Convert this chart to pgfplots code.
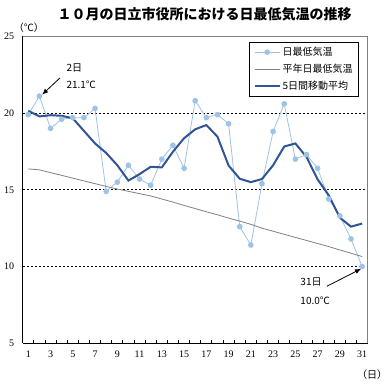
\documentclass[border=0pt]{standalone}
\usepackage{fontspec}
\setmainfont{Liberation Serif}
\newfontfamily\cjk{Noto Sans CJK JP}
\usepackage{pgfplots}
\pgfplotsset{compat=1.18}
\usetikzlibrary{arrows.meta}
\definecolor{daily}{RGB}{157,195,230}
\definecolor{ma}{RGB}{47,85,151}
\definecolor{norm}{RGB}{128,128,128}
\begin{document}
\begin{tikzpicture}
\begin{axis}[
  scale only axis, width=345pt, height=307pt,
  xmin=0.5, xmax=31.5, ymin=5, ymax=25,
  axis lines=left, axis line style={-, black, line width=0.9pt},
  xtick={1,3,...,31}, minor xtick={1.5,2.5,...,30.5},
  ytick={5,10,...,25},
  tick align=inside, tick pos=left,
  major tick length=0pt, minor tick length=3.5pt,
  minor tick style={black, line width=0.8pt},
  ticklabel style={font=\fontsize{10}{12}\selectfont},
  /pgf/number format/assume math mode=true,
  xticklabel style={yshift=-4pt},
  yticklabel style={xshift=-5pt},
  extra y ticks={10,15,20}, extra y tick labels={},
  extra y tick style={grid=major, major grid style={black, line width=0.7pt, dash pattern=on 2.5pt off 1.5pt}},
  clip=false,
  legend image code/.code={\draw[mark repeat=2,mark phase=2,#1] plot coordinates {(0pt,0pt) (12.5pt,0pt) (25pt,0pt)};},
  legend style={at={(rel axis cs:0.975,0.982)}, anchor=north east, draw=black, line width=0.8pt,
    font=\cjk\fontsize{10}{12}\selectfont, legend cell align=left,
    inner xsep=4pt, inner ysep=3pt, row sep=3pt},
]
\addplot[color=daily, line width=0.8pt, mark=*, mark size=2.4pt, mark options={fill=daily, draw=daily}] coordinates {
(1,19.9) (2,21.1) (3,19.0) (4,19.6) (5,19.7) (6,19.7) (7,20.3) (8,14.9) (9,15.5) (10,16.6)
(11,15.7) (12,15.3) (13,17.0) (14,17.9) (15,16.4) (16,20.8) (17,19.7) (18,19.9) (19,19.3) (20,12.6)
(21,11.4) (22,15.4) (23,18.8) (24,20.6) (25,17.0) (26,17.3) (27,16.4) (28,14.4) (29,13.3) (30,11.8) (31,10.0)};
\addlegendentry{日最低気温}
\addplot[color=norm, line width=0.8pt] coordinates {
(1,16.36) (2,16.3) (3,16.12) (4,15.94) (5,15.76) (6,15.58) (7,15.4) (8,15.22) (9,15.05) (10,14.9)
(11,14.75) (12,14.6) (13,14.4) (14,14.2) (15,13.98) (16,13.78) (17,13.57) (18,13.37) (19,13.16) (20,12.96)
(21,12.75) (22,12.5) (23,12.3) (24,12.1) (25,11.9) (26,11.7) (27,11.5) (28,11.3) (29,11.08) (30,10.87) (31,10.65)};
\addlegendentry{平年日最低気温}
\addplot[color=ma, line width=2pt] coordinates {
(1,20.15) (2,19.78) (3,19.86) (4,19.82) (5,19.66) (6,18.84) (7,18.02) (8,17.4) (9,16.6) (10,15.6)
(11,16.02) (12,16.5) (13,16.46) (14,17.48) (15,18.36) (16,18.94) (17,19.22) (18,18.46) (19,16.58) (20,15.72)
(21,15.5) (22,15.7) (23,16.6) (24,17.82) (25,18.02) (26,17.14) (27,15.68) (28,14.64) (29,13.18) (30,12.6) (31,12.8)};
\addlegendentry{5日間移動平均}
\draw[norm, line width=0.8pt] (rel axis cs:0,1) -- (rel axis cs:1,1) -- (rel axis cs:1,0);
\node[font=\cjk\bfseries\fontsize{14}{16}\selectfont] at (rel axis cs:0.527,1.0726) {１０月の日立市役所における日最低気温の推移};
\node[font=\cjk\fontsize{10}{12}\selectfont] at (rel axis cs:0.018,1.027) {（℃）};
\node[font=\cjk\fontsize{10}{12}\selectfont] at (rel axis cs:1.0125,-0.103) {（日）};
\node[font=\cjk\fontsize{10}{12}\selectfont, anchor=west] at (axis cs:4.12,22.94) {2日};
\node[font=\cjk\fontsize{10}{12}\selectfont, anchor=west] at (axis cs:4.12,21.84) {21.1℃};
\draw[-{Latex[length=6pt,width=5pt]}, line width=0.8pt] (axis cs:3.85,22.29) -- (axis cs:2.25,21.2);
\node[font=\cjk\fontsize{10}{12}\selectfont, anchor=west] at (axis cs:25.14,8.98) {31日};
\node[font=\cjk\fontsize{10}{12}\selectfont, anchor=west] at (axis cs:25.14,7.75) {10.0℃};
\draw[-{Latex[length=6pt,width=5pt]}, line width=0.8pt] (axis cs:27.84,8.72) -- (axis cs:30.9,9.85);
\coordinate (SW) at (rel axis cs:0,0);
\end{axis}
\pgfresetboundingbox
\path (SW) ++(-22.7pt,-46.7pt) rectangle ++(388pt,390pt);
\end{tikzpicture}
\end{document}
